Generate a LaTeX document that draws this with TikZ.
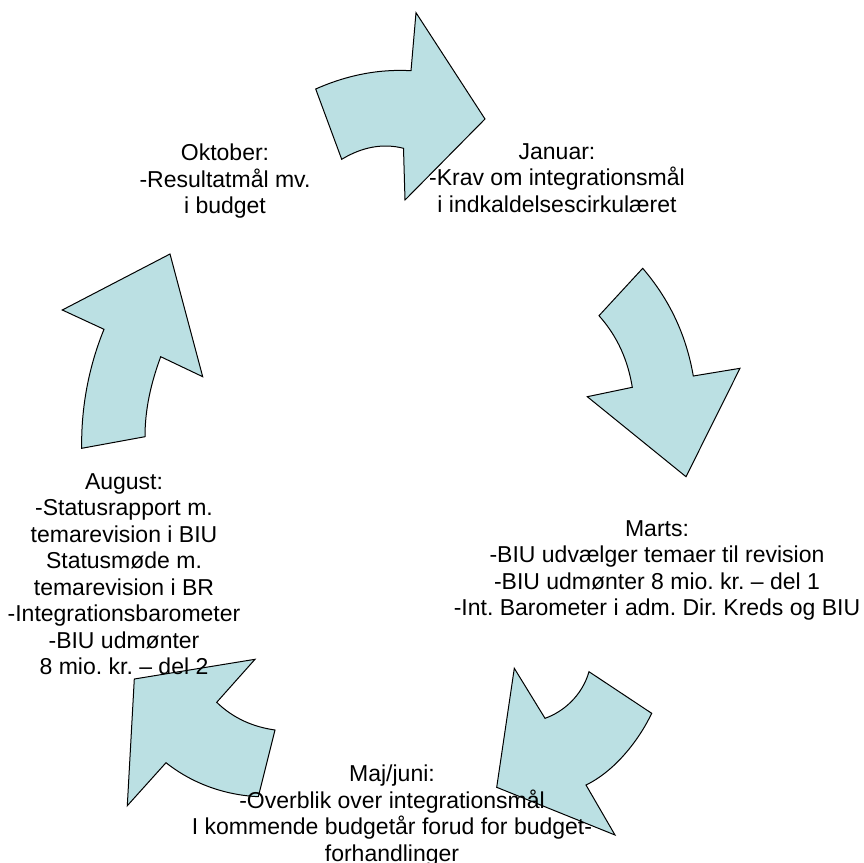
\documentclass[tikz,border=0pt]{standalone}
\usepackage{fontspec}
\setmainfont{Liberation Sans}
\definecolor{arrowfill}{HTML}{BBE0E3}
\begin{document}
\frenchspacing
\begin{tikzpicture}[x=1pt,y=-1pt,
  blockarrow/.style={draw=black, line width=1pt, fill=arrowfill, line join=miter},
  phase/.style={align=center, anchor=north, inner sep=0pt, font=\fontsize{23}{26.5}\selectfont\frenchspacing}]
\useasboundingbox (0,0) rectangle (864,862);
% arrow 1 (top, to Januar)
\draw[blockarrow] (315.7,89) .. controls (347.5,74.9) and (379.3,68.9) .. (411,70.7) -- (416,12.7) -- (485,119) -- (405,200) -- (403.5,148.3) .. controls (383,143) and (362,147) .. (341.7,159.3) -- cycle;
% arrow 2 (right, to Marts)
\draw[blockarrow] (642.7,268.3) .. controls (669,299) and (686,334) .. (693.3,376) -- (740,368.3) -- (686,476.7) -- (587.3,396.7) -- (632.3,387.3) .. controls (628,361) and (618,337) .. (599,315.7) -- cycle;
% arrow 3 (bottom right, to Maj/juni)
\draw[blockarrow] (651.7,713.3) .. controls (639,740) and (615,771) .. (586,785) -- (615,835) -- (496.7,787.3) -- (514.3,668.3) -- (545,718.3) .. controls (563,712) and (582,696) .. (589,671.7) -- cycle;
% arrow 4 (bottom left, to August)
\draw[blockarrow] (258.3,796.7) -- (275,730) .. controls (254,727) and (234,719) .. (216.7,702.3) -- (255,659.3) -- (134.3,679) -- (127.3,805.7) -- (166,762.7) .. controls (193,784) and (225,795) .. (258.3,796.7) -- cycle;
% arrow 5 (left, to Oktober)
\draw[blockarrow] (81.7,448.3) -- (145,436.7) .. controls (145,409) and (151,383) .. (160.7,356.7) -- (202.7,376.7) -- (170,254) -- (62.3,310) -- (104,329.3) .. controls (89,366) and (81,407) .. (81.7,448.3) -- cycle;
% labels
\node[phase] (januar) at (557,143) {Januar:\\-Krav om integrationsmål\\i indkaldelsescirkulæret};
\node[phase] (oktober) at (225,144) {Oktober:\\-Resultatmål mv.\\i budget};
\node[phase] (marts) at (657,520) {Marts:\\-BIU udvælger temaer til revision\\-BIU udmønter 8 mio. kr. – del 1\\-Int. Barometer i adm. Dir. Kreds og BIU};
\node[phase] (august) at (124,473) {August:\\-Statusrapport m.\\temarevision i BIU\\Statusmøde m.\\temarevision i BR\\-Integrationsbarometer\\-BIU udmønter\\8 mio. kr. – del 2};
\node[phase] (majjuni) at (392,765) {Maj/juni:\\-Overblik over integrationsmål\\I kommende budgetår forud for budget-\\forhandlinger};
\end{tikzpicture}
\end{document}
